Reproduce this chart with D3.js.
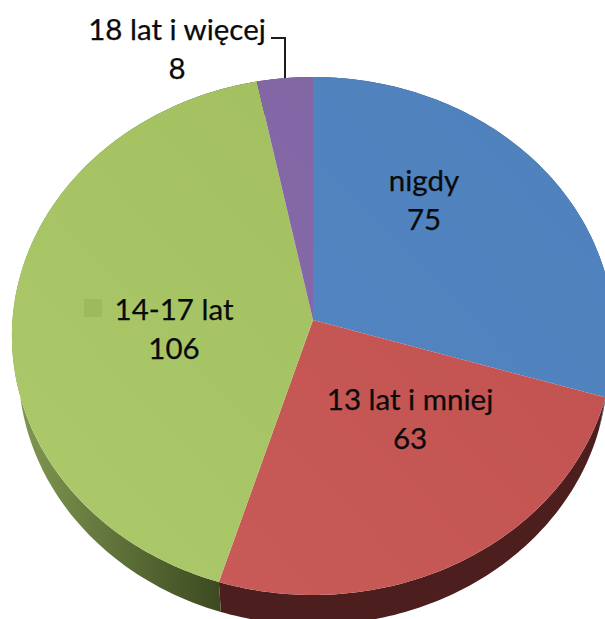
<!DOCTYPE html>
<html>
<head>
<meta charset="utf-8">
<script src="https://cdn.jsdelivr.net/npm/d3@7"></script>
<style>
html, body { margin: 0; padding: 0; background: #fff; overflow: hidden; }
svg { display: block; }
text { font-family: Lato, "Open Sans", sans-serif; font-size: 29.5px; fill: #0a0a0a; stroke: #0a0a0a; stroke-width: 0.25px; text-anchor: middle; }
</style>
</head>
<body>
<svg id="chart" width="605" height="619"></svg>
<script>
var categories = ["nigdy", "13 lat i mniej", "14-17 lat", "18 lat i więcej"];
var values = [75, 63, 106, 8];
var topColors = [["#4f81bd", "#5587c4"], ["#c0504d", "#c95c5a"], ["#a1bd5e", "#abc96a"], ["#8064a2", "#8a6cac"]];
var rimColors = [["#2c4a70", "#2c4a70"], ["#4d1e1e", "#4d1e1e"], ["#3e4a20", "#7f9752"], ["#46365c", "#46365c"]];

var width = 605, height = 619;
var k = 0.0618; // perspective of the tilted disc

var svg = d3.select("#chart").attr("viewBox", [0, 0, width, height]);
var defs = svg.append("defs");

// top face and bottom face of the disc, same projection with another offset
function project(disc, a) {
    var u = Math.sin(a), v = Math.cos(a);
    var w = 1 + k * v;
    return [disc.cx + disc.rx * u / w, disc.cy - disc.ry * v / w];
}
var topDisc = { cx: 313, cy: 320, rx: 300.5, ry: 258 };
var bottomDisc = { cx: 313, cy: 352, rx: 294, ry: 256 };

var pie = d3.pie().value(d => d).sort(null);
var slices = pie(values);
var line = d3.line();

function arcPoints(disc, d) {
    var n = Math.max(8, Math.ceil((d.endAngle - d.startAngle) * 60));
    return d3.range(n + 1).map(i => project(disc, d.startAngle + (d.endAngle - d.startAngle) * i / n));
}

function gradient(id, cols, x1, y1, x2, y2) {
    var g = defs.append("linearGradient").attr("id", id)
        .attr("gradientUnits", "userSpaceOnUse")
        .attr("x1", x1).attr("y1", y1).attr("x2", x2).attr("y2", y2);
    g.append("stop").attr("offset", "0%").attr("stop-color", cols[0]);
    g.append("stop").attr("offset", "100%").attr("stop-color", cols[1]);
}

slices.forEach(function (d, i) {
    gradient("top" + i, topColors[i], 560, 90, 60, 560);
    gradient("rim" + i, rimColors[i], 218, 0, 21, 0);
});

// rim first, top face goes over it
svg.append("g").selectAll("path")
    .data(slices)
    .enter()
    .append("path")
    .attr("d", d => line(arcPoints(topDisc, d).concat(arcPoints(bottomDisc, d).reverse())) + "Z")
    .attr("fill", (d, i) => "url(#rim" + i + ")");

svg.append("g").selectAll("path")
    .data(slices)
    .enter()
    .append("path")
    .attr("d", d => line([[topDisc.cx, topDisc.cy]].concat(arcPoints(topDisc, d))) + "Z")
    .attr("fill", (d, i) => "url(#top" + i + ")");

// labels sit where the chart had them
var labelPos = [[424, 191], [410, 410], [174, 320], [177, 40]];
var labels = svg.append("g").selectAll("g")
    .data(categories)
    .enter()
    .append("g")
    .attr("transform", (d, i) => "translate(" + labelPos[i][0] + "," + labelPos[i][1] + ")");
labels.append("text").text(d => d);
labels.append("text").attr("y", 39).text((d, i) => values[i]);

// legend key left in the green label
svg.append("rect").attr("x", 84).attr("y", 299).attr("width", 18).attr("height", 18).attr("fill", "#9dba5c");

// leader line of the small slice
svg.append("path")
    .attr("d", line([[271, 38], [285, 38], [285, 78]]))
    .attr("fill", "none")
    .attr("stroke", "#1c1c1c")
    .attr("stroke-width", 2);
</script>
</body>
</html>
